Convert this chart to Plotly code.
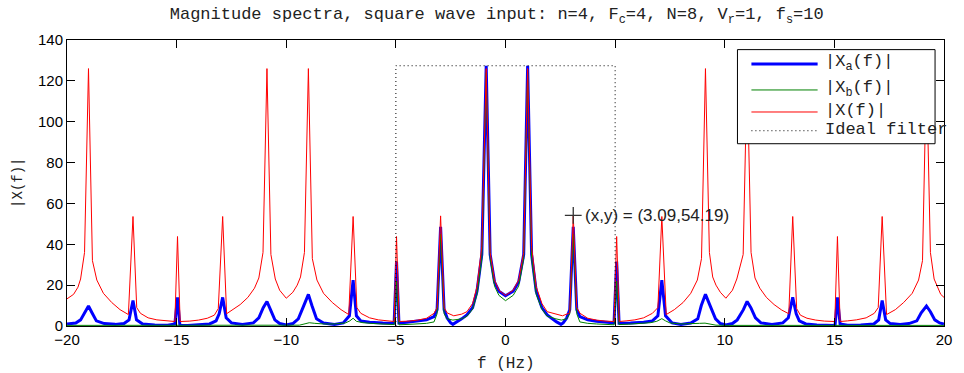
import plotly.graph_objects as go

# ---------------- data ----------------
# |X(f)|  (red)
x_red = [-20.0, -19.7, -19.5, -19.38, -19.2, -19.02, -18.84, -18.64, -18.34, -17.96, -17.58, -17.2,
         -16.99, -16.82, -16.65, -16.3, -15.9, -15.45, -15.08, -14.96, -14.84, -14.4, -14.0, -13.6,
         -13.28, -13.1, -12.9, -12.72, -12.45, -12.1, -11.75, -11.45, -11.25, -11.06, -10.88, -10.7,
         -10.5, -10.3, -10.0, -9.7, -9.5, -9.35, -9.17, -8.99, -8.81, -8.6, -8.3, -7.9, -7.5, -7.15,
         -6.95, -6.78, -6.6, -6.2, -5.8, -5.4, -5.08, -4.97, -4.85, -4.4, -4.0, -3.6, -3.26, -3.12,
         -2.96, -2.8, -2.66, -2.36, -2.0, -1.76, -1.5, -1.3, -1.08, -0.88, -0.7, -0.5, -0.3, 0.0,
         0.35, 0.6, 0.83, 1.01, 1.19, 1.4, 1.66, 1.9, 2.3, 2.6, 2.93, 3.09, 3.25, 3.4, 3.75, 4.15,
         4.55, 4.95, 5.07, 5.19, 5.5, 5.9, 6.3, 6.7, 6.95, 7.13, 7.33, 7.7, 8.1, 8.45, 8.75, 8.94,
         9.12, 9.3, 9.45, 9.6, 9.8, 10.05, 10.35, 10.55, 10.84, 11.02, 11.2, 11.38, 11.6, 11.9,
         12.25, 12.6, 12.92, 13.1, 13.28, 13.45, 13.75, 14.15, 14.55, 15.02, 15.14, 15.26, 15.6,
         16.0, 16.45, 16.82, 17.0, 17.18, 17.38, 17.78, 18.16, 18.55, 18.84, 19.02, 19.2, 19.38,
         19.55, 19.7, 19.85, 20.0]
y_red = [13.3, 15.5, 19.0, 23.0, 36.0, 126.0, 32.0, 22.5, 16.0, 11.5, 8.0, 5.6,
         53.6, 9.0, 6.2, 4.0, 3.0, 2.5, 2.2, 43.8, 2.2, 2.4, 2.9, 3.8,
         5.3, 8.5, 53.6, 6.0, 7.8, 10.5, 14.0, 18.5, 23.5, 36.0, 126.0, 35.0,
         23.0, 17.5, 13.6, 16.5, 20.0, 24.0, 36.0, 126.0, 33.0, 22.5, 16.0, 11.5, 8.0, 5.6,
         53.6, 9.0, 6.2, 4.0, 3.0, 2.5, 2.2, 43.8, 2.2, 2.4, 2.9, 3.8, 6.2, 9.0,
         53.9, 9.0, 6.4, 5.0, 5.8, 7.0, 11.0, 19.3, 39.0, 126.0, 36.0, 22.5, 17.5, 15.0,
         17.5, 22.5, 36.0, 126.0, 39.0, 19.3, 11.0, 7.0, 5.8, 5.0, 6.4, 54.19, 9.0, 6.2, 3.8, 2.9,
         2.4, 2.2, 43.8, 2.2, 2.5, 3.0, 4.0, 6.2, 9.0, 53.6, 5.6, 8.0, 11.5, 16.0, 22.5, 33.0,
         126.0, 36.0, 24.0, 20.0, 16.5, 13.6, 17.5, 23.0, 35.0, 126.0, 36.0, 23.5, 18.5, 14.0,
         10.5, 7.8, 6.0, 53.6, 8.5, 5.3, 3.8, 2.9, 2.4, 2.2, 43.8, 2.2, 2.5,
         3.0, 4.0, 6.2, 9.0, 53.6, 5.6, 8.0, 11.5, 16.0, 22.5, 32.0, 126.0, 36.0,
         23.0, 19.0, 15.5, 14.0]

# |Xa(f)|  (blue)
x_blue = [-20.0, -19.6, -19.38, -19.18, -19.02, -18.86, -18.66, -18.3, -17.8, -17.4, -17.17, -16.99,
          -16.83, -16.55, -16.0, -15.4, -15.08, -14.96, -14.85, -14.5, -14.0, -13.5, -13.2, -13.06,
          -12.9, -12.74, -12.5, -12.0, -11.5, -11.25, -11.05, -10.88, -10.72, -10.52, -10.3, -10.0,
          -9.7, -9.45, -9.2, -8.99, -8.83, -8.62, -8.3, -7.8, -7.4, -7.12, -6.95, -6.8, -6.6, -6.2,
          -5.6, -5.08, -4.97, -4.86, -4.5, -4.0, -3.6, -3.26, -3.12, -2.96, -2.8, -2.66, -2.5, -2.4,
          -2.2, -2.0, -1.76, -1.5, -1.3, -1.08, -0.88, -0.7, -0.5, -0.3, 0.0,
          0.35, 0.6, 0.83, 1.01, 1.19, 1.4, 1.66, 1.9, 2.13, 2.33, 2.53, 2.63, 2.79, 2.93, 3.09,
          3.25, 3.39, 3.75, 4.15, 4.6, 4.95, 5.07, 5.18, 5.7, 6.3, 6.7, 6.95, 7.13, 7.3, 7.6, 8.0,
          8.45, 8.77, 8.93, 9.12, 9.33, 9.58, 9.8, 10.05, 10.35, 10.57, 10.85, 11.02, 11.19, 11.4,
          11.65, 12.15, 12.65, 12.9, 13.1, 13.26, 13.4, 13.7, 14.2, 14.7, 15.03, 15.14, 15.26,
          15.6, 16.2, 16.8, 17.02, 17.18, 17.34, 17.55, 18.0, 18.4, 18.76, 18.96, 19.2, 19.38,
          19.58, 19.8, 20.0]
y_blue = [1.0, 1.5, 3.0, 7.0, 9.8, 6.5, 2.5, 1.2, 0.8, 1.2, 3.0, 12.5,
          3.0, 1.0, 0.5, 0.4, 1.0, 14.0, 0.2, 0.3, 0.5, 1.0, 2.5, 6.0,
          14.0, 4.0, 1.5, 0.8, 1.5, 4.0, 9.0, 12.0, 8.0, 3.0, 1.2, 0.5,
          1.2, 3.5, 10.0, 15.5, 10.0, 3.5, 1.5, 0.8, 1.5, 5.0, 22.5, 5.0, 2.5, 1.8,
          1.5, 1.4, 31.5, 1.5, 1.8, 2.3, 3.0, 4.6, 8.0, 48.5, 8.0, 3.9, 1.5, 0.8,
          2.0, 3.5, 5.4, 9.0, 17.0, 35.0, 127.4, 35.0, 21.5, 17.0, 14.8,
          17.0, 21.5, 35.0, 127.4, 35.0, 17.0, 9.0, 5.4, 3.5, 2.0, 0.8, 1.5, 3.9, 8.0, 48.5,
          8.0, 4.6, 3.0, 2.3, 1.8, 1.5, 31.5, 1.4, 1.5, 1.8, 2.5, 5.0, 22.5, 5.0, 1.5, 0.8,
          1.5, 3.5, 10.0, 15.5, 10.0, 3.5, 1.2, 0.5, 1.2, 3.0, 8.0, 12.0, 9.0, 4.0,
          1.5, 0.8, 1.5, 4.0, 14.0, 6.0, 2.5, 1.0, 0.5, 0.3, 0.2, 14.0, 1.0,
          0.4, 0.5, 1.0, 3.0, 12.5, 3.0, 1.2, 0.8, 1.2, 2.5, 6.5, 9.8, 7.0,
          3.0, 1.5, 1.0]

# |Xb(f)|  (green)
x_green = [-20.0, -10.0, -9.4, -9.1, -8.95, -8.7, -8.3, -7.8, -7.3, -7.1, -6.95, -6.8, -6.5, -6.0,
           -5.5, -5.08, -4.97, -4.86, -4.4, -4.0, -3.6, -3.26, -3.12, -2.96, -2.8, -2.66, -2.4,
           -2.0, -1.76, -1.5, -1.3, -1.08, -0.88, -0.7, -0.5, -0.3, 0.0,
           0.35, 0.6, 0.83, 1.01, 1.19, 1.4, 1.66, 1.9, 2.3, 2.55, 2.79, 2.93, 3.09, 3.25, 3.39,
           3.75, 4.15, 4.6, 4.95, 5.07, 5.18, 5.6, 6.1, 6.6, 6.9, 7.13, 7.3, 7.5, 8.0, 8.5, 8.85,
           9.1, 9.25, 9.6, 10.2, 20.0]
y_green = [0.3, 0.3, 0.4, 1.2, 1.6, 1.3, 1.0, 1.0, 1.5, 2.5, 3.8, 2.3, 1.6, 1.2,
           0.9, 0.7, 22.0, 0.6, 0.8, 1.0, 1.3, 2.0, 6.0, 45.0, 6.0, 3.5, 2.9,
           3.5, 4.8, 8.3, 15.5, 33.0, 124.0, 33.0, 19.5, 15.0, 12.4,
           15.0, 19.5, 33.0, 124.0, 33.0, 15.5, 8.3, 4.8, 3.5, 2.9, 3.5, 6.0, 45.0, 6.0, 2.0,
           1.3, 1.0, 0.8, 0.6, 22.0, 0.7, 0.9, 1.2, 1.6, 2.3, 3.6, 2.5, 1.5, 1.0, 1.0, 1.3,
           1.4, 1.2, 0.4, 0.3, 0.3]

# Ideal filter outline
x_ideal = [-5, -5, 5, 5]
y_ideal = [0, 127.4, 127.4, 0]

# Data cursor point
cursor_f = [3.09]
cursor_v = [54.19]

x_ticks = [-20, -15, -10, -5, 0, 5, 10, 15, 20]
y_ticks = [0, 20, 40, 60, 80, 100, 120, 140]

legend_labels = ["|X<sub>a</sub>(f)|", "|X<sub>b</sub>(f)|", "|X(f)|", "Ideal filter"]

# ---------------- figure ----------------
MONO = "Liberation Mono, Courier New, monospace"
SANS = "Liberation Sans, Arial, Helvetica, sans-serif"

fig = go.Figure()
fig.add_trace(go.Scatter(x=x_blue, y=y_blue, mode="lines",
                         line=dict(color="#0000ff", width=3), showlegend=False))
fig.add_trace(go.Scatter(x=x_green, y=y_green, mode="lines",
                         line=dict(color="#008000", width=1), showlegend=False))
fig.add_trace(go.Scatter(x=x_red, y=y_red, mode="lines",
                         line=dict(color="#ff0000", width=1), showlegend=False))
fig.add_trace(go.Scatter(x=x_ideal, y=y_ideal, mode="lines",
                         line=dict(color="#000000", width=1, dash="1px,3px"), showlegend=False))
fig.add_trace(go.Scatter(x=cursor_f, y=cursor_v, mode="markers",
                         marker=dict(symbol="cross-thin", size=12,
                                     line=dict(color="#333333", width=1.3)),
                         showlegend=False))

fig.add_annotation(x=cursor_f[0], y=cursor_v[0], xref="x", yref="y",
                   text=f"(x,y) = ({cursor_f[0]:.2f},{cursor_v[0]:.2f})",
                   showarrow=False, xanchor="left", yanchor="middle", xshift=10,
                   font=dict(family=SANS, size=17, color="#222222"))

# manual MATLAB-style legend (paper coords = axes domain)
L0, L1 = 0.7645, 0.9898
B0, B1 = 0.6373, 0.9664
fig.add_shape(type="rect", xref="paper", yref="paper", x0=L0, x1=L1, y0=B0, y1=B1,
              line=dict(color="black", width=1), fillcolor="white", layer="above")
row_y = [0.9163, 0.8253, 0.7483, 0.6828]
styles = [dict(color="#0000ff", width=3), dict(color="#008000", width=1),
          dict(color="#ff0000", width=1), dict(color="#000000", width=1, dash="1px,3px")]
for ry, st, lab in zip(row_y, styles, legend_labels):
    fig.add_shape(type="line", xref="paper", yref="paper", x0=0.7804, x1=0.8559,
                  y0=ry, y1=ry, line=st, layer="above")
    fig.add_annotation(xref="paper", yref="paper", x=0.8620, y=ry + 0.004, text=lab,
                       showarrow=False, xanchor="left", yanchor="middle",
                       font=dict(family=MONO, size=17, color="#222222"))

# axis labels
fig.add_annotation(xref="paper", yref="paper", x=0.5, y=-0.133, text="f (Hz)",
                   showarrow=False, xanchor="center", yanchor="middle",
                   font=dict(family=MONO, size=16, color="#222222"))
fig.add_annotation(xref="paper", yref="paper", x=-0.056, y=0.5, text="|X(f)|",
                   textangle=-90, showarrow=False, xanchor="center", yanchor="middle",
                   font=dict(family=MONO, size=14, color="#222222"))

fig.update_layout(
    width=964, height=373,
    margin=dict(l=67, r=14, t=40, b=47),
    paper_bgcolor="white", plot_bgcolor="white",
    title=dict(text="Magnitude spectra, square wave input: n=4, F<sub>c</sub>=4, N=8, "
                    "V<sub>r</sub>=1, f<sub>s</sub>=10",
               x=0.49, xref="paper", xanchor="center",
               y=1 - 13 / 373, yref="container", yanchor="middle",
               font=dict(family=MONO, size=17, color="#222222")),
    showlegend=False,
)
axis_common = dict(showline=True, linecolor="black", linewidth=1, mirror="ticks",
                   ticks="inside", ticklen=8, tickcolor="black", tickwidth=1,
                   showgrid=False, zeroline=False,
                   tickfont=dict(family=SANS, size=15, color="black"))
fig.update_xaxes(range=[-20, 20], tickvals=x_ticks, **axis_common)
fig.update_yaxes(range=[0, 140], tickvals=y_ticks, **axis_common)

fig.write_html("out.html",
               config={"displayModeBar": False},
               post_script="document.body.style.margin='0';"
                           "document.body.style.overflow='hidden';")
